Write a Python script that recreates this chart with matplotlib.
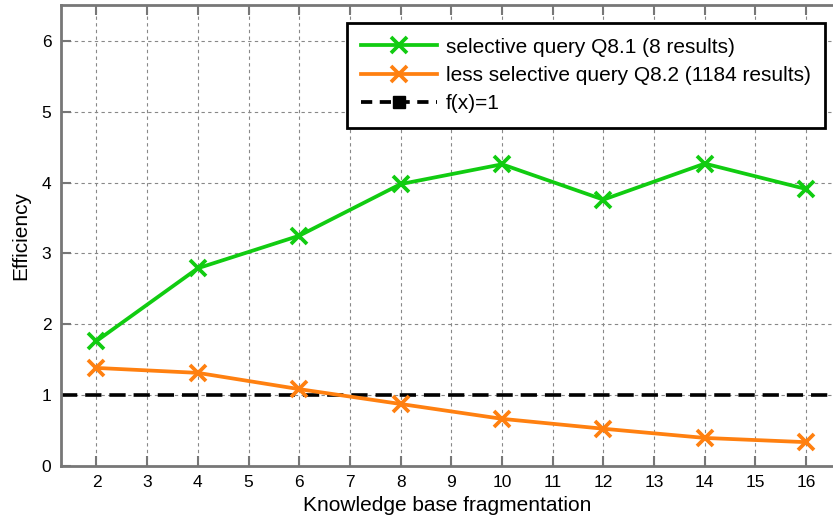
import matplotlib
matplotlib.use("Agg")
import matplotlib.pyplot as plt
from matplotlib.lines import Line2D

plt.rcParams['font.family'] = ['Liberation Sans', 'DejaVu Sans']

fragmentation = [2, 4, 6, 8, 10, 12, 14, 16]
selective = [1.76, 2.79, 3.25, 3.98, 4.26, 3.76, 4.27, 3.91]
less_selective = [1.38, 1.31, 1.08, 0.87, 0.66, 0.52, 0.39, 0.33]
x_ticks = list(range(2, 17))
y_ticks = list(range(0, 7))
labels = ["selective query Q8.1 (8 results)",
          "less selective query Q8.2 (1184 results)",
          "f(x)=1"]

green = "#11cc11"
orange = "#ff8010"

fig = plt.figure(figsize=(8.33, 5.2), dpi=100)
ax = fig.add_axes([61/833, 54.5/520, 772/833, 461/520])
ax.set_xlim(1.3, 16.53)
ax.set_ylim(0, 6.52)

ax.set_xticks(x_ticks)
ax.set_yticks(y_ticks)
ax.grid(True, color="#888888", linestyle=(0, (3, 3)), linewidth=0.8)
ax.set_axisbelow(True)

for s in ["left", "top", "bottom"]:
    ax.spines[s].set_color("#777777")
    ax.spines[s].set_linewidth(2)
ax.spines["right"].set_visible(False)
ax.tick_params(direction="in", length=7, width=1.5, color="#777777",
               top=True, right=False, labelsize=12.5, labelcolor="black", pad=7)

ax.axhline(1, color="black", linewidth=2.6, linestyle=(0, (4.5, 2.2)), zorder=2)
ax.plot(fragmentation, selective, color=green, linewidth=2.7, marker="x",
        markersize=11, markeredgewidth=2.7, zorder=3)
ax.plot(fragmentation, less_selective, color=orange, linewidth=2.7, marker="x",
        markersize=11, markeredgewidth=2.7, zorder=3)

ax.set_xlabel("Knowledge base fragmentation", fontsize=15, labelpad=4)
ax.set_ylabel("Efficiency", fontsize=15, labelpad=8)

handles = [
    Line2D([], [], color=green, linewidth=2.7, marker="x", markersize=11, markeredgewidth=2.7),
    Line2D([], [], color=orange, linewidth=2.7, marker="x", markersize=11, markeredgewidth=2.7),
    Line2D([], [], color="black", linewidth=2.7, linestyle=(0, (3, 2)), marker="s", markersize=9),
]
leg = ax.legend(handles, labels, loc="upper right", bbox_to_anchor=(825/833, 497/520),
                bbox_transform=fig.transFigure, fontsize=15, fancybox=False,
                framealpha=1, edgecolor="black", handlelength=3.65, borderpad=0.7,
                labelspacing=0.45, handletextpad=0.4, borderaxespad=0)
leg.get_frame().set_linewidth(2)

fig.savefig("out.png", dpi=100)
